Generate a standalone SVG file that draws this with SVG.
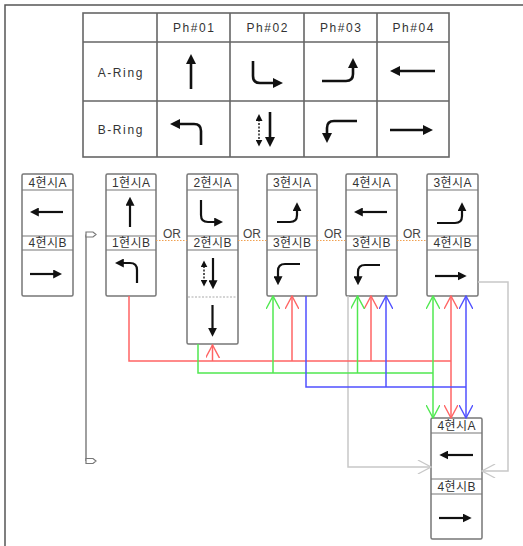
<svg xmlns="http://www.w3.org/2000/svg" width="523" height="546" viewBox="0 0 523 546">
<style>
.txt{font-family:"Liberation Sans","Noto Sans CJK KR",sans-serif;fill:#333;text-anchor:middle}
.hd{font-size:12px;letter-spacing:1.6px}
.lb{font-size:12px;letter-spacing:0.4px}
.or{font-size:12px;fill:#444}
.grid{fill:none;stroke:#666;stroke-width:1.6}
.box{fill:#fff;stroke:#777;stroke-width:1.5}
.sep{stroke:#777;stroke-width:1.2}
.ta{fill:none;stroke:#111;stroke-width:2.6;marker-end:url(#ahT)}
.ba{fill:none;stroke:#111;stroke-width:2.2;marker-end:url(#ahB)}
.dot{fill:none;stroke:#111;stroke-width:1.4;stroke-dasharray:2 1.5;marker-start:url(#ahS);marker-end:url(#ahS)}
.ordot{stroke:#f0a050;stroke-width:1.2;stroke-dasharray:1.5 1.5}
.r{fill:none;stroke:#ff6464;stroke-width:1.5}
.g{fill:none;stroke:#50e850;stroke-width:1.5}
.b{fill:none;stroke:#5050ff;stroke-width:1.5}
.gy{fill:none;stroke:#c8c8c8;stroke-width:1.5}
</style>
<defs>
<marker id="ahT" viewBox="0 0 10 10" refX="2" refY="5" markerWidth="10" markerHeight="10" markerUnits="userSpaceOnUse" orient="auto-start-reverse"><path d="M0,0 L10,5 L0,10 z" fill="#111"/></marker>
<marker id="ahB" viewBox="0 0 10 10" refX="2" refY="5" markerWidth="9" markerHeight="9" markerUnits="userSpaceOnUse" orient="auto-start-reverse"><path d="M0,0 L10,5 L0,10 z" fill="#111"/></marker>
<marker id="ahS" viewBox="0 0 10 10" refX="2" refY="5" markerWidth="7" markerHeight="7" markerUnits="userSpaceOnUse" orient="auto-start-reverse"><path d="M0,0 L10,5 L0,10 z" fill="#111"/></marker>
<marker id="vR" viewBox="0 0 16 16" refX="15" refY="8" markerWidth="14" markerHeight="14" markerUnits="userSpaceOnUse" orient="auto-start-reverse"><path d="M0,0 L15,8 L0,16" fill="none" stroke="#ff6464" stroke-width="1.6"/></marker>
<marker id="vG" viewBox="0 0 16 16" refX="15" refY="8" markerWidth="14" markerHeight="14" markerUnits="userSpaceOnUse" orient="auto-start-reverse"><path d="M0,0 L15,8 L0,16" fill="none" stroke="#50e850" stroke-width="1.6"/></marker>
<marker id="vB" viewBox="0 0 16 16" refX="15" refY="8" markerWidth="14" markerHeight="14" markerUnits="userSpaceOnUse" orient="auto-start-reverse"><path d="M0,0 L15,8 L0,16" fill="none" stroke="#5050ff" stroke-width="1.6"/></marker>
<marker id="vY" viewBox="0 0 16 16" refX="15" refY="8" markerWidth="15" markerHeight="14" markerUnits="userSpaceOnUse" orient="auto"><path d="M0,0 L15,8 L0,16" fill="none" stroke="#c8c8c8" stroke-width="1.4"/></marker>
</defs>
<rect width="523" height="546" fill="#fff"/>
<path d="M5,546 V5 H523" fill="none" stroke="#555" stroke-width="1.5"/>

<g id="phase-table">
<rect class="grid" x="83" y="13" width="366" height="144"/>
<path class="grid" d="M157,13 V157 M230,13 V157 M304,13 V157 M377,13 V157 M83,42 H449 M83,101 H449"/>
<text class="txt hd" x="194.3" y="31.5">Ph#01</text>
<text class="txt hd" x="267.8" y="31.5">Ph#02</text>
<text class="txt hd" x="341.3" y="31.5">Ph#03</text>
<text class="txt hd" x="413.8" y="31.5">Ph#04</text>
<text class="txt hd" x="120.8" y="77">A-Ring</text>
<text class="txt hd" x="120.8" y="134">B-Ring</text>
<path class="ta" d="M191,89 V62"/>
<path class="ta" d="M253,61 V76 Q253,83 260,83 H275"/>
<path class="ta" d="M322,81 H346 Q353,81 353,74 V66"/>
<path class="ta" d="M435,71 H398"/>
<path class="ta" d="M201,145 V131 Q201,124 194,124 H178"/>
<path class="dot" d="M259,119.6 V141"/>
<path class="ta" d="M270,112 V139"/>
<path class="ta" d="M357,121 H334 Q327,121 327,128 V135"/>
<path class="ta" d="M390,130 H425"/>
</g>

<g id="node-4-left">
<rect class="box" x="22" y="174" width="51" height="122" rx="1.5"/>
<path class="sep" d="M22,190 H73 M22,236 H73 M22,250 H73"/>
<text class="txt lb" x="47.7" y="187">4현시A</text>
<text class="txt lb" x="47.7" y="247">4현시B</text>
<path class="ba" d="M63,212 H37"/>
<path class="ba" d="M30,274 H55"/>
</g>

<g id="node-1">
<rect class="box" x="106" y="174" width="50" height="122" rx="1.5"/>
<path class="sep" d="M106,190 H156 M106,236 H156 M106,250 H156"/>
<text class="txt lb" x="131.2" y="187">1현시A</text>
<text class="txt lb" x="131.2" y="247">1현시B</text>
<path class="ba" d="M130,227 V204"/>
<path class="ba" d="M137,283 V270 Q137,263 130,263 H122"/>
</g>

<g id="node-2">
<rect class="box" x="187" y="174" width="51" height="170" rx="1.5"/>
<path class="sep" d="M187,190 H238 M187,236 H238 M187,250 H238"/>
<path d="M188,297 H237" stroke="#aaa" stroke-width="1.2" stroke-dasharray="2 1.5"/>
<text class="txt lb" x="212.7" y="187">2현시A</text>
<text class="txt lb" x="212.7" y="247">2현시B</text>
<path class="ba" d="M201,200 V215 Q201,222 208,222 H216"/>
<path class="dot" d="M204,266 V281"/>
<path class="ba" d="M213,258 V282"/>
<path class="ba" d="M212.5,305 V329.5"/>
</g>

<g id="node-3">
<rect class="box" x="267" y="174" width="50" height="122" rx="1.5"/>
<path class="sep" d="M267,190 H317 M267,236 H317 M267,250 H317"/>
<text class="txt lb" x="292.2" y="187">3현시A</text>
<text class="txt lb" x="292.2" y="247">3현시B</text>
<path class="ba" d="M277,222 H290 Q297,222 297,215 V209.5"/>
<path class="ba" d="M300,264 H285 Q278,264 278,271 V278"/>
</g>

<g id="node-4">
<rect class="box" x="346" y="174" width="51" height="122" rx="1.5"/>
<path class="sep" d="M346,190 H397 M346,236 H397 M346,250 H397"/>
<text class="txt lb" x="371.7" y="187">4현시A</text>
<text class="txt lb" x="371.7" y="247">3현시B</text>
<path class="ba" d="M387,212 H361"/>
<path class="ba" d="M380,265 H365 Q358,265 358,272 V278"/>
</g>

<g id="node-5">
<rect class="box" x="427" y="174" width="51" height="122" rx="1.5"/>
<path class="sep" d="M427,190 H478 M427,236 H478 M427,250 H478"/>
<text class="txt lb" x="452.7" y="187">3현시A</text>
<text class="txt lb" x="452.7" y="247">4현시B</text>
<path class="ba" d="M437,223 H455 Q462,223 462,216 V209.5"/>
<path class="ba" d="M435,276 H459.5"/>
</g>

<g id="node-6">
<rect class="box" x="431" y="418" width="51" height="121" rx="1.5"/>
<path class="sep" d="M431,433 H482 M431,479 H482 M431,494 H482"/>
<text class="txt lb" x="456.7" y="430">4현시A</text>
<text class="txt lb" x="456.7" y="491">4현시B</text>
<path class="ba" d="M473,455 H446.5"/>
<path class="ba" d="M439,518 H464.5"/>
</g>

<g id="or-labels">
<path class="ordot" d="M156,240.5 H187 M238,240.5 H267 M317,240.5 H346 M397,240.5 H427"/>
<text class="txt or" x="172" y="238">OR</text>
<text class="txt or" x="252" y="238">OR</text>
<text class="txt or" x="333" y="238">OR</text>
<text class="txt or" x="412" y="238">OR</text>
</g>

<g id="cycle-marker">
<path d="M86,234.5 V461" stroke="#777" stroke-width="1.4" fill="none"/>
<path d="M86,232 H93 L96,234.5 L93,237 H86 z" fill="#fff" stroke="#777" stroke-width="1.2"/>
<path d="M86,458.5 H93 L96,461 L93,463.5 H86 z" fill="#fff" stroke="#777" stroke-width="1.2"/>
</g>

<g id="connectors">
<path class="gy" d="M348,296 V467 H431" marker-end="url(#vY)"/>
<path class="gy" d="M478,282 H508 V471 H482" marker-end="url(#vY)"/>
<path class="r" d="M129,296 V361 H451"/>
<path class="r" d="M212.5,361 V345" marker-end="url(#vR)"/>
<path class="r" d="M292,361 V296" marker-end="url(#vR)"/>
<path class="r" d="M371,361 V296" marker-end="url(#vR)"/>
<path class="r" d="M451,296 V418" marker-start="url(#vR)" marker-end="url(#vR)"/>
<path class="g" d="M198,344 V373 H433"/>
<path class="g" d="M273,373 V296" marker-end="url(#vG)"/>
<path class="g" d="M357.5,373 V296" marker-end="url(#vG)"/>
<path class="g" d="M433,296 V418" marker-start="url(#vG)" marker-end="url(#vG)"/>
<path class="b" d="M306,296 V387 H466"/>
<path class="b" d="M386,387 V296" marker-end="url(#vB)"/>
<path class="b" d="M466,296 V418" marker-start="url(#vB)" marker-end="url(#vB)"/>
</g>
</svg>
